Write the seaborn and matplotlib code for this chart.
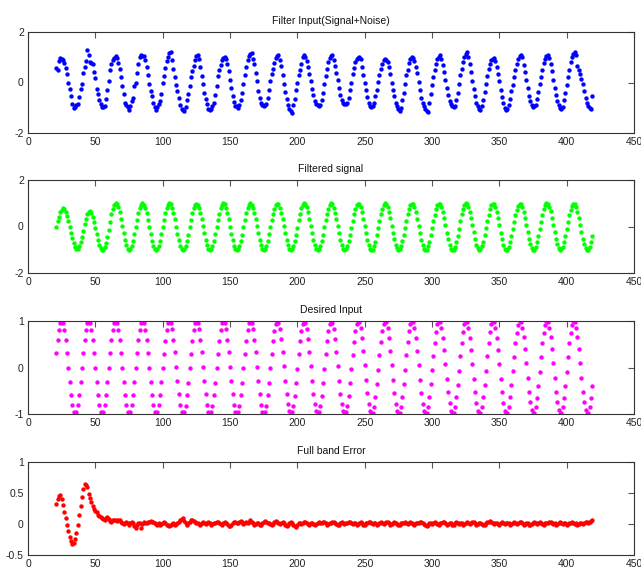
import numpy as np
import pandas as pd
import matplotlib
matplotlib.use("Agg")
import matplotlib.pyplot as plt
import seaborn as sns

# ---------------- data (x runs 21, 22, ... one sample per unit) ----------------
titles = ["Filter Input(Signal+Noise)", "Filtered signal", "Desired Input", "Full band Error"]
x_start = 21

filter_input = [
    0.58, 0.49, 0.86, 0.96, 0.92, 0.88, 0.79, 0.58, 0.33, 0.00, -0.25, -0.53, -0.84, -1.02, -0.96, -0.91, -0.86, -0.57, -0.27, -0.05,
    0.36, 0.60, 0.87, 1.27, 1.07, 0.80, 0.76, 0.73, 0.40, 0.17, -0.27, -0.47, -0.71, -0.87, -0.97, -0.99, -0.93, -0.67, -0.31, 0.07,
    0.49, 0.73, 0.90, 0.98, 1.03, 0.97, 0.76, 0.53, 0.20, -0.15, -0.44, -0.80, -0.89, -0.98, -1.07, -0.92, -0.73, -0.60, -0.13, 0.00,
    0.36, 0.73, 1.00, 1.07, 1.03, 1.03, 0.90, 0.62, 0.30, -0.07, -0.33, -0.53, -0.80, -0.97, -1.10, -0.97, -0.85, -0.73, -0.44, 0.00,
    0.27, 0.57, 0.85, 1.00, 1.16, 1.20, 0.89, 0.55, 0.20, -0.10, -0.35, -0.60, -0.89, -1.03, -1.08, -1.13, -0.97, -0.71, -0.45, -0.12,
    0.20, 0.45, 0.65, 0.89, 1.03, 1.10, 0.93, 0.60, 0.27, -0.05, -0.40, -0.67, -0.85, -1.03, -1.07, -1.03, -0.95, -0.80, -0.48, -0.15,
    0.25, 0.48, 0.70, 0.88, 0.97, 1.00, 0.92, 0.72, 0.45, 0.10, -0.22, -0.55, -0.78, -0.92, -0.93, -1.00, -0.90, -0.68, -0.40, -0.05,
    0.30, 0.62, 0.90, 1.05, 1.13, 1.17, 0.95, 0.72, 0.38, 0.05, -0.35, -0.62, -0.80, -0.90, -0.93, -0.88, -0.86, -0.62, -0.28, 0.04,
    0.33, 0.55, 0.78, 0.98, 1.04, 1.07, 0.88, 0.65, 0.30, -0.05, -0.36, -0.65, -0.88, -1.05, -1.12, -1.20, -0.90, -0.66, -0.30, -0.01,
    0.30, 0.50, 0.75, 1.02, 1.07, 1.00, 0.87, 0.60, 0.35, 0.05, -0.25, -0.50, -0.72, -0.85, -0.90, -0.93, -0.88, -0.70, -0.40, -0.05,
    0.25, 0.55, 0.80, 0.98, 1.05, 1.09, 0.90, 0.66, 0.38, 0.08, -0.22, -0.50, -0.70, -0.80, -0.84, -0.87, -0.82, -0.60, -0.30, 0.00,
    0.32, 0.58, 0.80, 0.92, 0.98, 1.00, 0.92, 0.62, 0.30, 0.00, -0.30, -0.58, -0.82, -0.95, -0.97, -0.94, -0.80, -0.55, -0.30, 0.02,
    0.30, 0.55, 0.75, 0.88, 0.93, 0.90, 0.80, 0.60, 0.33, 0.00, -0.30, -0.55, -0.80, -0.95, -1.05, -1.13, -1.00, -0.68, -0.40, -0.05,
    0.28, 0.50, 0.78, 0.95, 1.00, 0.98, 0.86, 0.63, 0.36, 0.02, -0.30, -0.60, -0.82, -0.95, -1.05, -1.12, -1.17, -0.80, -0.45, -0.08,
    0.22, 0.50, 0.75, 0.93, 1.02, 1.09, 0.95, 0.70, 0.42, 0.10, -0.20, -0.50, -0.72, -0.85, -0.92, -0.97, -0.95, -0.70, -0.40, -0.05,
    0.28, 0.55, 0.80, 1.00, 1.12, 1.20, 1.00, 0.72, 0.40, 0.05, -0.25, -0.55, -0.80, -0.95, -1.05, -1.10, -0.95, -0.70, -0.38, -0.05,
    0.25, 0.52, 0.74, 0.88, 0.94, 0.96, 0.85, 0.62, 0.35, 0.05, -0.28, -0.58, -0.82, -1.00, -1.09, -1.05, -0.88, -0.65, -0.35, -0.08,
    0.20, 0.50, 0.75, 0.95, 1.05, 1.09, 1.02, 0.70, 0.40, 0.10, -0.20, -0.52, -0.75, -0.90, -0.96, -0.95, -0.88, -0.66, -0.38, -0.06,
    0.22, 0.50, 0.78, 0.95, 1.05, 1.09, 0.97, 0.75, 0.45, 0.10, -0.22, -0.50, -0.75, -0.90, -1.00, -1.04, -0.98, -0.70, -0.40, -0.10,
    0.20, 0.50, 0.82, 1.00, 1.12, 1.20, 1.10, 0.67, 0.50, 0.33, 0.12, -0.04, -0.33, -0.60, -0.80, -0.93, -1.00, -1.03, -0.55,
]

filtered_signal = [
    0.00, 0.22, 0.43, 0.61, 0.73, 0.78, 0.74, 0.62, 0.44, 0.22, -0.03, -0.28, -0.51, -0.72, -0.87, -0.96, -0.95, -0.86, -0.68, -0.45,
    -0.18, 0.09, 0.34, 0.52, 0.63, 0.65, 0.57, 0.41, 0.19, -0.06, -0.33, -0.58, -0.79, -0.94, -1.02, -1.01, -0.90, -0.70, -0.45, -0.14,
    0.20, 0.52, 0.77, 0.93, 1.00, 0.96, 0.83, 0.61, 0.33, 0.02, -0.30, -0.58, -0.80, -0.95, -1.02, -0.97, -0.83, -0.61, -0.32, -0.01,
    0.29, 0.57, 0.79, 0.94, 0.99, 0.94, 0.79, 0.57, 0.29, -0.02, -0.33, -0.61, -0.83, -0.97, -1.02, -0.97, -0.83, -0.61, -0.33, -0.02,
    0.27, 0.56, 0.79, 0.94, 0.99, 0.95, 0.80, 0.58, 0.31, 0.00, -0.31, -0.59, -0.82, -0.97, -1.02, -0.98, -0.84, -0.62, -0.35, -0.04,
    0.28, 0.56, 0.78, 0.93, 0.98, 0.94, 0.81, 0.59, 0.32, 0.01, -0.30, -0.58, -0.81, -0.96, -1.01, -0.97, -0.83, -0.61, -0.34, -0.03,
    0.27, 0.55, 0.78, 0.93, 0.99, 0.95, 0.81, 0.58, 0.31, 0.00, -0.31, -0.59, -0.82, -0.97, -1.02, -0.98, -0.84, -0.62, -0.35, -0.04,
    0.28, 0.56, 0.79, 0.94, 0.99, 0.94, 0.80, 0.58, 0.32, 0.01, -0.30, -0.58, -0.81, -0.96, -1.01, -0.97, -0.83, -0.61, -0.34, -0.03,
    0.26, 0.54, 0.77, 0.92, 0.98, 0.95, 0.81, 0.60, 0.32, 0.01, -0.30, -0.58, -0.81, -0.96, -1.02, -0.98, -0.85, -0.64, -0.36, -0.05,
    0.27, 0.55, 0.78, 0.93, 0.99, 0.95, 0.82, 0.61, 0.33, 0.02, -0.29, -0.57, -0.80, -0.95, -1.01, -0.97, -0.84, -0.63, -0.35, -0.04,
    0.26, 0.54, 0.77, 0.93, 0.99, 0.95, 0.81, 0.60, 0.32, 0.01, -0.30, -0.58, -0.81, -0.96, -1.02, -0.98, -0.85, -0.64, -0.36, -0.05,
    0.24, 0.52, 0.76, 0.91, 0.98, 0.96, 0.82, 0.61, 0.34, 0.03, -0.28, -0.56, -0.80, -0.95, -1.02, -0.99, -0.86, -0.65, -0.38, -0.07,
    0.25, 0.53, 0.77, 0.92, 0.99, 0.96, 0.83, 0.62, 0.35, 0.04, -0.27, -0.55, -0.79, -0.94, -1.01, -0.98, -0.85, -0.64, -0.37, -0.06,
    0.24, 0.52, 0.76, 0.92, 0.98, 0.95, 0.82, 0.61, 0.34, 0.03, -0.28, -0.56, -0.80, -0.95, -1.02, -0.99, -0.86, -0.65, -0.38, -0.07,
    0.22, 0.51, 0.75, 0.91, 0.98, 0.96, 0.83, 0.62, 0.35, 0.05, -0.26, -0.55, -0.79, -0.95, -1.02, -0.99, -0.87, -0.66, -0.39, -0.09,
    0.23, 0.52, 0.76, 0.92, 0.99, 0.96, 0.84, 0.63, 0.36, 0.06, -0.25, -0.54, -0.78, -0.94, -1.01, -0.98, -0.86, -0.65, -0.38, -0.08,
    0.22, 0.51, 0.75, 0.91, 0.98, 0.96, 0.83, 0.62, 0.35, 0.05, -0.26, -0.55, -0.79, -0.95, -1.02, -0.99, -0.87, -0.66, -0.39, -0.09,
    0.20, 0.50, 0.73, 0.90, 0.98, 0.96, 0.84, 0.64, 0.37, 0.07, -0.24, -0.54, -0.77, -0.94, -1.02, -0.99, -0.88, -0.68, -0.41, -0.11,
    0.21, 0.51, 0.74, 0.91, 0.99, 0.96, 0.85, 0.65, 0.38, 0.08, -0.23, -0.53, -0.76, -0.93, -1.01, -0.98, -0.87, -0.67, -0.40, -0.10,
    0.20, 0.50, 0.73, 0.90, 0.98, 0.96, 0.84, 0.64, 0.37, 0.07, -0.24, -0.54, -0.77, -0.94, -1.02, -0.99, -0.88, -0.68, -0.41,
]

desired_input = [
    0.31, 0.59, 0.81, 0.95, 1.00, 0.95, 0.81, 0.59, 0.31, 0.00, -0.31, -0.59, -0.81, -0.95, -1.00, -0.95, -0.81, -0.59, -0.31, 0.00,
    0.31, 0.59, 0.81, 0.95, 1.00, 0.95, 0.81, 0.59, 0.31, 0.00, -0.31, -0.59, -0.81, -0.95, -1.00, -0.95, -0.81, -0.59, -0.31, 0.00,
    0.31, 0.59, 0.81, 0.95, 1.00, 0.95, 0.81, 0.59, 0.31, 0.00, -0.31, -0.59, -0.81, -0.95, -1.00, -0.95, -0.81, -0.59, -0.31, 0.00,
    0.31, 0.59, 0.81, 0.95, 1.00, 0.95, 0.81, 0.59, 0.31, 0.00, -0.31, -0.59, -0.81, -0.95, -1.00, -0.95, -0.81, -0.59, -0.31, 0.00,
    0.29, 0.57, 0.80, 0.95, 1.00, 0.96, 0.82, 0.60, 0.33, 0.02, -0.29, -0.57, -0.80, -0.95, -1.00, -0.96, -0.82, -0.60, -0.33, -0.02,
    0.29, 0.57, 0.80, 0.95, 1.00, 0.96, 0.82, 0.60, 0.33, 0.02, -0.29, -0.57, -0.80, -0.95, -1.00, -0.96, -0.82, -0.60, -0.33, -0.02,
    0.29, 0.57, 0.80, 0.95, 1.00, 0.96, 0.82, 0.60, 0.33, 0.02, -0.29, -0.57, -0.80, -0.95, -1.00, -0.96, -0.82, -0.60, -0.33, -0.02,
    0.29, 0.57, 0.80, 0.95, 1.00, 0.96, 0.82, 0.60, 0.33, 0.02, -0.29, -0.57, -0.80, -0.95, -1.00, -0.96, -0.82, -0.60, -0.33, -0.02,
    0.28, 0.56, 0.79, 0.94, 1.00, 0.96, 0.83, 0.62, 0.34, 0.03, -0.28, -0.56, -0.79, -0.94, -1.00, -0.96, -0.83, -0.62, -0.34, -0.03,
    0.28, 0.56, 0.79, 0.94, 1.00, 0.96, 0.83, 0.62, 0.34, 0.03, -0.28, -0.56, -0.79, -0.94, -1.00, -0.96, -0.83, -0.62, -0.34, -0.03,
    0.28, 0.56, 0.79, 0.94, 1.00, 0.96, 0.83, 0.62, 0.34, 0.03, -0.28, -0.56, -0.79, -0.94, -1.00, -0.96, -0.83, -0.62, -0.34, -0.03,
    0.26, 0.54, 0.78, 0.93, 1.00, 0.97, 0.84, 0.63, 0.36, 0.05, -0.26, -0.54, -0.78, -0.93, -1.00, -0.97, -0.84, -0.63, -0.36, -0.05,
    0.26, 0.54, 0.78, 0.93, 1.00, 0.97, 0.84, 0.63, 0.36, 0.05, -0.26, -0.54, -0.78, -0.93, -1.00, -0.97, -0.84, -0.63, -0.36, -0.05,
    0.26, 0.54, 0.78, 0.93, 1.00, 0.97, 0.84, 0.63, 0.36, 0.05, -0.26, -0.54, -0.78, -0.93, -1.00, -0.97, -0.84, -0.63, -0.36, -0.05,
    0.24, 0.53, 0.77, 0.93, 1.00, 0.97, 0.85, 0.64, 0.37, 0.07, -0.24, -0.53, -0.77, -0.93, -1.00, -0.97, -0.85, -0.64, -0.37, -0.07,
    0.24, 0.53, 0.77, 0.93, 1.00, 0.97, 0.85, 0.64, 0.37, 0.07, -0.24, -0.53, -0.77, -0.93, -1.00, -0.97, -0.85, -0.64, -0.37, -0.07,
    0.24, 0.53, 0.77, 0.93, 1.00, 0.97, 0.85, 0.64, 0.37, 0.07, -0.24, -0.53, -0.77, -0.93, -1.00, -0.97, -0.85, -0.64, -0.37, -0.07,
    0.22, 0.52, 0.75, 0.92, 1.00, 0.97, 0.86, 0.66, 0.39, 0.09, -0.22, -0.52, -0.75, -0.92, -1.00, -0.97, -0.86, -0.66, -0.39, -0.09,
    0.22, 0.52, 0.75, 0.92, 1.00, 0.97, 0.86, 0.66, 0.39, 0.09, -0.22, -0.52, -0.75, -0.92, -1.00, -0.97, -0.86, -0.66, -0.39, -0.09,
    0.22, 0.52, 0.75, 0.92, 1.00, 0.97, 0.86, 0.66, 0.39, 0.09, -0.22, -0.52, -0.75, -0.92, -1.00, -0.97, -0.86, -0.66, -0.39,
]

band_error = [
    0.32, 0.41, 0.45, 0.46, 0.40, 0.30, 0.19, 0.09, -0.02, -0.12, -0.21, -0.28, -0.32, -0.31, -0.24, -0.14, -0.01, 0.14, 0.29, 0.43,
    0.57, 0.65, 0.63, 0.59, 0.48, 0.42, 0.35, 0.29, 0.25, 0.21, 0.19, 0.15, 0.13, 0.12, 0.10, 0.08, 0.07, 0.10, 0.11, 0.08,
    0.05, 0.03, 0.06, 0.07, 0.06, 0.05, 0.07, 0.06, 0.04, 0.02, 0.00, 0.02, 0.04, 0.02, -0.01, 0.01, 0.03, 0.02, -0.03, -0.07,
    -0.02, 0.01, 0.02, -0.06, 0.00, 0.03, 0.02, 0.01, 0.03, 0.04, 0.05, 0.03, 0.04, 0.02, 0.00, -0.01, 0.01, -0.02, 0.00, 0.02,
    0.03, 0.01, -0.01, -0.02, -0.04, -0.02, 0.00, 0.01, -0.01, 0.00, 0.02, 0.04, 0.06, 0.08, 0.09, 0.05, 0.02, -0.01, 0.01, 0.03,
    0.06, 0.07, 0.05, 0.03, 0.01, 0.02, 0.00, -0.01, 0.01, 0.03, 0.02, 0.00, 0.01, 0.03, 0.01, -0.01, 0.00, 0.02, 0.01, 0.03,
    0.04, 0.02, 0.00, -0.02, 0.01, 0.03, 0.02, 0.00, -0.03, -0.04, -0.01, 0.02, 0.04, 0.03, 0.01, 0.02, 0.04, 0.05, 0.03, 0.00,
    0.01, 0.03, 0.02, 0.04, 0.06, 0.04, 0.01, -0.01, 0.00, 0.02, 0.01, -0.02, -0.01, 0.02, 0.04, 0.05, 0.03, 0.01, 0.02, 0.00,
    -0.02, 0.00, 0.03, 0.05, 0.04, 0.02, 0.00, 0.01, 0.03, 0.02, -0.01, -0.03, -0.02, 0.01, 0.03, 0.02, -0.01, -0.04, -0.05, -0.02,
    0.01, 0.02, 0.00, 0.01, 0.03, 0.04, 0.02, 0.00, -0.01, 0.01, 0.02, 0.00, -0.02, 0.00, 0.02, 0.03, 0.01, 0.02, 0.04, 0.03,
    0.01, -0.01, 0.00, 0.02, 0.01, 0.03, 0.04, 0.02, 0.00, -0.02, -0.01, 0.01, 0.03, 0.02, 0.00, 0.01, 0.02, 0.04, 0.03, 0.01,
    0.00, 0.02, 0.01, -0.01, 0.00, 0.02, 0.03, 0.01, -0.02, -0.01, 0.01, 0.02, 0.04, 0.03, 0.01, 0.00, 0.02, 0.01, -0.01, 0.00,
    0.02, 0.03, 0.01, 0.00, 0.02, 0.04, 0.03, 0.01, -0.01, 0.00, 0.01, 0.03, 0.02, 0.00, -0.02, -0.01, 0.01, 0.02, 0.01, 0.03,
    0.02, 0.00, 0.01, 0.03, 0.02, 0.00, -0.01, 0.01, 0.02, 0.01, 0.03, 0.04, 0.02, 0.00, -0.02, -0.03, -0.01, 0.01, 0.02, 0.00,
    0.01, 0.03, 0.02, 0.00, -0.01, 0.01, 0.02, 0.04, 0.03, 0.01, -0.01, 0.00, 0.02, 0.01, -0.02, -0.01, 0.01, 0.03, 0.02, 0.00,
    0.02, 0.01, -0.01, 0.00, 0.02, 0.03, 0.01, 0.00, 0.02, 0.04, 0.03, 0.01, -0.01, 0.00, 0.01, 0.02, 0.00, -0.02, -0.01, 0.01,
    0.03, 0.04, 0.05, 0.04, 0.02, 0.00, 0.01, 0.02, 0.00, -0.01, 0.01, 0.03, 0.02, 0.00, 0.01, 0.02, 0.01, -0.01, 0.00, 0.02,
    0.03, 0.01, 0.00, 0.02, 0.04, 0.03, 0.01, -0.01, 0.00, 0.02, 0.01, -0.01, -0.02, 0.00, 0.02, 0.03, 0.01, 0.00, 0.01, 0.03,
    0.02, 0.00, -0.01, 0.01, 0.02, 0.01, 0.03, 0.04, 0.02, 0.00, 0.01, -0.01, 0.00, 0.02, 0.03, 0.01, 0.00, 0.02, 0.01, -0.01,
    0.00, 0.02, 0.01, 0.03, 0.02, 0.00, 0.01, -0.01, 0.00, 0.02, 0.01, 0.00, 0.02, 0.03, 0.04, 0.02, 0.03, 0.05, 0.06,
]

x_ticks = [0, 50, 100, 150, 200, 250, 300, 350, 400, 450]
y_ticks = [[-2, 0, 2], [-2, 0, 2], [-1, 0, 1], [-0.5, 0, 0.5, 1]]
y_tick_labels = [["-2", "0", "2"], ["-2", "0", "2"], ["-1", "0", "1"], ["-0.5", "0", "0.5", "1"]]
y_limits = [(-2, 2), (-2, 2), (-1, 1), (-0.5, 1)]
colors = ["#0000ff", "#00ff00", "#ff00ff", "#ff0000"]
series = [filter_input, filtered_signal, desired_input, band_error]

# ---------------- style ----------------
sns.set_style("white")
plt.rcParams["font.family"] = ["Liberation Sans", "DejaVu Sans"]

W, H = 641, 571
fig = plt.figure(figsize=(W / 100, H / 100), dpi=100)
fig.patch.set_facecolor("white")

left_px, right_px = 28, 634
boxes = [(32, 133), (180, 273), (321, 414), (462, 555)]

for i, (top_px, bot_px) in enumerate(boxes):
    rect = [left_px / W, 1 - bot_px / H, (right_px - left_px) / W, (bot_px - top_px) / H]
    ax = fig.add_axes(rect)
    vals = series[i]
    df = pd.DataFrame({"x": np.arange(x_start, x_start + len(vals)), "y": vals})
    sns.scatterplot(data=df, x="x", y="y", color=colors[i], s=10, linewidth=0,
                    ax=ax, legend=False)
    ax.set_xlim(0, 450)
    ax.set_ylim(*y_limits[i])
    ax.set_xticks(x_ticks)
    ax.set_xticklabels([str(t) for t in x_ticks])
    ax.set_yticks(y_ticks[i])
    ax.set_yticklabels(y_tick_labels[i])
    ax.set_xlabel("")
    ax.set_ylabel("")
    ax.set_title(titles[i], fontsize=7.5, pad=6, color="#111111")
    ax.tick_params(direction="in", top=True, right=True, length=4, width=0.8,
                   color="#555555", labelsize=7.5, labelcolor="#222222", pad=3)
    for sp in ax.spines.values():
        sp.set_color("#333333")
        sp.set_linewidth(0.8)
        sp.set_visible(True)
    ax.set_facecolor("white")

fig.savefig("out.png", dpi=100, facecolor="white")
